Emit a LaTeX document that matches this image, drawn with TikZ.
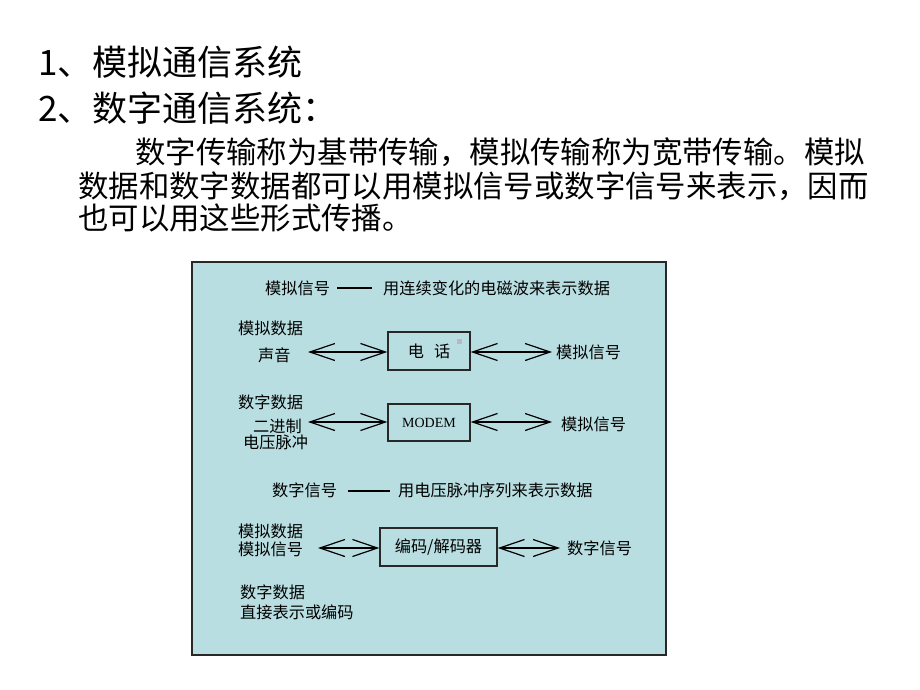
\documentclass[tikz,border=0pt]{standalone}
\usepackage{fontspec}
\setmainfont{Noto Sans CJK SC}
\newfontfamily\serifmodem{Liberation Serif}
\usetikzlibrary{arrows.meta}
\definecolor{panel}{RGB}{185,222,225}
\definecolor{edge}{RGB}{40,40,40}
\begin{document}
\begin{tikzpicture}[x=1pt,y=-1pt,
 title/.style={anchor=west,inner sep=0,font=\fontsize{35}{35}\selectfont},
 para/.style={anchor=west,inner sep=0,font=\fontsize{30.4}{31}\selectfont},
 lbl/.style={anchor=west,inner sep=0,font=\fontsize{16.2}{17}\selectfont},
 dev/.style={draw=edge,line width=1.3pt,fill=panel,minimum height=38pt,inner sep=0,font=\fontsize{16.2}{17}\selectfont},
 dbl/.style={{Straight Barb[length=25pt,width=17pt]}-{Straight Barb[length=25pt,width=17pt]},line width=1.2pt},
 rule/.style={line width=1.2pt}]
\useasboundingbox (0,0) rectangle (920,690);
\fill[white] (0,0) rectangle (920,690);

\node[title] (t1) at (38,62) {1、模拟通信系统};
\node[title] (t2) at (38,108) {2、数字通信系统：};
\node[para] (p1) at (135,152) {数字传输称为基带传输，模拟传输称为宽带传输。模拟};
\node[para] (p2) at (78,186) {数据和数字数据都可以用模拟信号或数字信号来表示，因而};
\node[para] (p3) at (78,218) {也可以用这些形式传播。};

\node[draw=edge,line width=1.3pt,fill=panel,minimum width=474pt,minimum height=393pt,inner sep=0] (panel) at (429,458.5) {};

% analog signal definition
\node[lbl] (as) at (265,288) {模拟信号};
\node[lbl] (asd) at (383,288) {用连续变化的电磁波来表示数据};
\draw[rule] (337,288) coordinate (r1a) -- (372,288) coordinate (r1b);

% phone row
\node[lbl] (ad1) at (238,328) {模拟数据};
\node[lbl] (voice) at (258,355) {声音};
\node[dev,minimum width=82pt] (phone) at (429,351) {电\hspace{10pt}话};
\fill[gray!55] (457,339) rectangle (462,344);
\coordinate (a1) at (308,352);
\coordinate (a2) at (552,352);
\draw[dbl] (a1) -- (phone.west |- a1);
\draw[dbl] (phone.east |- a2) -- (a2);
\node[lbl] (asig1) at (556,352) {模拟信号};

% modem row
\node[lbl] (dd1) at (238,402) {数字数据};
\node[lbl] (bin) at (253,426) {二进制};
\node[lbl] (pulse) at (243,442) {电压脉冲};
\node[dev,minimum width=82pt,minimum height=37pt] (modem) at (429,422.5) {\serifmodem\fontsize{14}{15}\selectfont MODEM};
\coordinate (b1) at (308,422);
\coordinate (b2) at (552,422);
\draw[dbl] (b1) -- (modem.west |- b1);
\draw[dbl] (modem.east |- b2) -- (b2);
\node[lbl] (asig2) at (561,424) {模拟信号};

% digital signal definition
\node[lbl] (ds) at (272,490) {数字信号};
\node[lbl] (dsd) at (398,490) {用电压脉冲序列来表示数据};
\draw[rule] (348,491) coordinate (r2a) -- (390,491) coordinate (r2b);

% codec row
\node[lbl] (ad2) at (238,531) {模拟数据};
\node[lbl] (asig3) at (238,549) {模拟信号};
\node[dev,minimum width=117pt] (codec) at (438.5,547) {编码/解码器};
\coordinate (c1) at (318,548);
\coordinate (c2) at (560,548);
\draw[dbl] (c1) -- (codec.west |- c1);
\draw[dbl] (codec.east |- c2) -- (c2);
\node[lbl] (dsig) at (567,548) {数字信号};

% last
\node[lbl] (dd2) at (240,592) {数字数据};
\node[lbl] (direct) at (240,612) {直接表示或编码};
\end{tikzpicture}
\end{document}
